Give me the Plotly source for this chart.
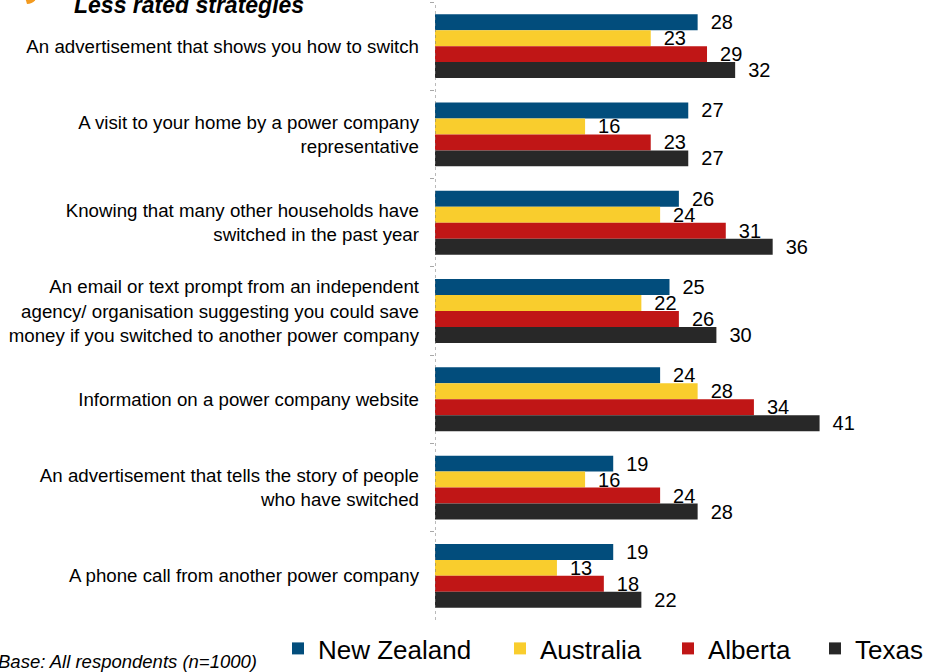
import plotly.graph_objects as go

# Survey data: share of respondents rating each strategy
strategies = [
    "An advertisement that shows you how to switch",
    "A visit to your home by a power company<br>representative",
    "Knowing that many other households have<br>switched in the past year",
    "An email or text prompt from an independent<br>agency/ organisation suggesting you could save<br>money if you switched to another power company",
    "Information on a power company website",
    "An advertisement that tells the story of people<br>who have switched",
    "A phone call from another power company",
]
new_zealand = [28, 27, 26, 25, 24, 19, 19]
australia = [23, 16, 24, 22, 28, 16, 13]
alberta = [29, 23, 31, 26, 34, 24, 18]
texas = [32, 27, 36, 30, 41, 28, 22]

series = [
    ("New Zealand", new_zealand, "#024d7c"),
    ("Australia", australia, "#f9cd2d"),
    ("Alberta", alberta, "#c01616"),
    ("Texas", texas, "#282828"),
]

FONT = "Arial, Liberation Sans, sans-serif"
W, H = 928, 672
ML, MR, MT, MB = 435, 0, 2.4, 49.7
PW, PH = W - ML - MR, H - MT - MB


def px_x(px):
    return (px - ML) / PW


def px_y(py):
    return 1 - (py - MT) / PH


fig = go.Figure()
legend_text_x = [317, 539, 707, 854]
for i, (name, vals, color) in enumerate(series):
    fig.add_trace(go.Bar(
        name=name,
        y=strategies,
        x=vals,
        orientation="h",
        marker=dict(color=color, line=dict(width=0)),
        text=["\u2002" + str(v) for v in vals],
        textposition="outside",
        constraintext="none",
        cliponaxis=False,
        textfont=dict(family=FONT, size=20, color="#000000"),
        legend="legend" if i == 0 else f"legend{i + 1}",
    ))

legends = {}
for i, (name, _, _) in enumerate(series):
    key = "legend" if i == 0 else f"legend{i + 1}"
    legends[key] = dict(
        x=px_x(legend_text_x[i] - 39),
        xanchor="left",
        y=px_y(651),
        yanchor="middle",
        orientation="h",
        font=dict(family=FONT, size=26, color="#000000"),
        bgcolor="rgba(0,0,0,0)",
        borderwidth=0,
        itemclick=False,
    )

fig.update_layout(
    width=W,
    height=H,
    margin=dict(l=ML, r=MR, t=MT, b=MB, pad=0),
    paper_bgcolor="#ffffff",
    plot_bgcolor="#ffffff",
    barmode="group",
    bargap=0.277,
    bargroupgap=0,
    showlegend=True,
    font=dict(family=FONT, color="#000000"),
    xaxis=dict(
        range=[0, PW / 9.38],
        visible=False,
        showgrid=False,
        zeroline=False,
    ),
    yaxis=dict(
        type="category",
        autorange="reversed",
        showgrid=False,
        zeroline=False,
        showline=False,
        ticks="outside",
        tickson="boundaries",
        ticklen=4,
        tickwidth=1,
        tickcolor="#a8a8a8",
        ticklabelstandoff=15,
        tickfont=dict(family=FONT, size=18.7, color="#000000"),
    ),
    **legends,
)

# Dotted category axis line
fig.add_shape(
    type="line", xref="x", yref="paper", x0=0, x1=0, y0=0, y1=1,
    line=dict(color="#777777", width=1, dash="dot"),
)

# Orange heading bullet, mostly above the page edge
fig.add_shape(
    type="path", xref="paper", yref="paper",
    path=(f"M {px_x(24)} {px_y(-6)} L {px_x(37)} {px_y(-6)} "
          f"L {px_x(35)} {px_y(1)} Q {px_x(32)} {px_y(4.5)} {px_x(27)} {px_y(4.5)} Z"),
    fillcolor="#f39a1f", line=dict(width=0),
)

fig.add_annotation(
    text="<b><i>Less rated strategies</i></b>",
    xref="paper", yref="paper", x=px_x(72), y=px_y(5),
    xanchor="left", yanchor="middle", showarrow=False,
    font=dict(family=FONT, size=23, color="#000000"),
)

fig.add_annotation(
    text="<i>Base: All respondents (n=1000)</i>",
    xref="paper", yref="paper", x=px_x(-4), y=px_y(664),
    xanchor="left", yanchor="middle", showarrow=False,
    font=dict(family=FONT, size=18.5, color="#000000"),
)

fig.write_html("out.html")
